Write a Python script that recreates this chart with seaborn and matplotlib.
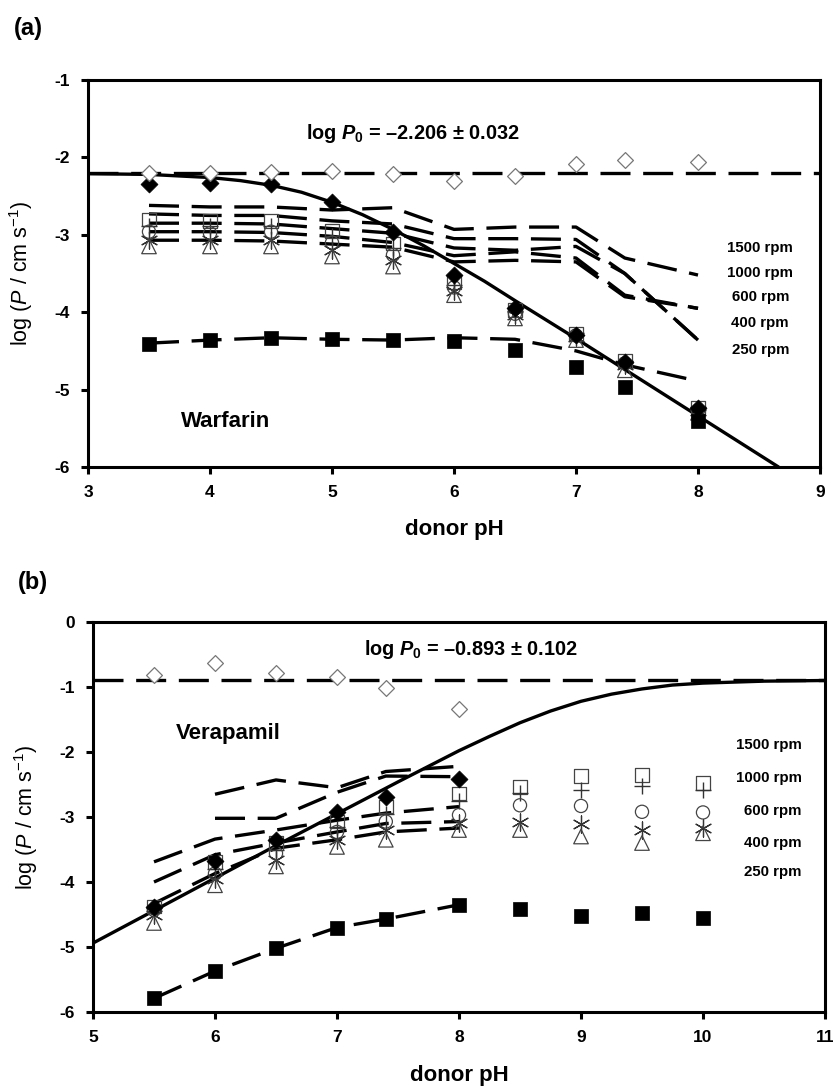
import numpy as np
import pandas as pd
import matplotlib
matplotlib.use("Agg")
import matplotlib.pyplot as plt
import seaborn as sns

# ---------------- data: panel (a) Warfarin ----------------
ph_a = [3.5, 4.0, 4.5, 5.0, 5.5, 6.0, 6.5, 7.0, 7.4, 8.0]
a_open_diamond = [-2.20, -2.20, -2.19, -2.17, -2.21, -2.31, -2.24, -2.09, -2.04, -2.06]
a_filled_diamond = [-2.35, -2.33, -2.35, -2.57, -2.96, -3.52, -3.95, -4.29, -4.64, -5.24]
a_sq_1500 = [-2.80, -2.82, -2.82, -2.95, -3.11, -3.61, -3.97, -4.28, -4.63, -5.24]
a_plus_1000 = [-2.88, -2.88, -2.88, -3.02, -3.17, -3.65, -4.00, -4.30, -4.65, -5.26]
a_circ_600 = [-2.96, -2.98, -2.96, -3.10, -3.26, -3.68, -4.02, -4.30, -4.66, -5.27]
a_ast_400 = [-3.07, -3.07, -3.07, -3.20, -3.33, -3.72, -4.04, -4.32, -4.68, -5.28]
a_tri_250 = [-3.15, -3.15, -3.15, -3.28, -3.41, -3.78, -4.08, -4.36, -4.75, -5.30]
a_filled_sq = [-4.41, -4.36, -4.33, -4.35, -4.36, -4.37, -4.49, -4.71, -4.96, -5.41]
a_dash_sq = [-4.40, -4.36, -4.33, -4.35, -4.36, -4.33, -4.35, -4.50, -4.68, -4.89]
a_dash_1500 = [-2.62, -2.64, -2.64, -2.68, -2.65, -2.93, -2.90, -2.90, -3.30, -3.52]
a_dash_1000 = [-2.73, -2.75, -2.75, -2.82, -2.86, -3.05, -3.05, -3.06, -3.50, -4.36]
a_dash_600 = [-2.85, -2.85, -2.86, -2.92, -2.98, -3.17, -3.20, -3.15, -3.50, -4.36]
a_dash_400 = [-2.96, -2.96, -2.97, -3.02, -3.10, -3.27, -3.22, -3.30, -3.78, -3.95]
a_dash_250 = [-3.07, -3.07, -3.08, -3.12, -3.16, -3.35, -3.33, -3.35, -3.80, -3.95]
a_curve_ph = [3.0, 3.5, 4.0, 4.25, 4.5, 4.75, 5.0, 5.25, 5.5, 5.75, 6.0, 6.25, 6.5, 7.0, 7.5, 8.0, 8.66]
a_curve_logp = [-2.21, -2.22, -2.26, -2.30, -2.36, -2.45, -2.58, -2.74, -2.93, -3.14,
                -3.37, -3.60, -3.85, -4.34, -4.84, -5.34, -6.00]
a_logp0 = -2.206

# ---------------- data: panel (b) Verapamil ----------------
ph_b = [5.5, 6.0, 6.5, 7.0, 7.4, 8.0, 8.5, 9.0, 9.5, 10.0]
ph_b_short = [5.5, 6.0, 6.5, 7.0, 7.4, 8.0]
b_open_diamond = [-0.82, -0.63, -0.78, -0.85, -1.02, -1.34]
b_filled_diamond = [-4.38, -3.67, -3.35, -2.92, -2.69, -2.41]
b_sq_1500 = [-4.38, -3.69, -3.40, -3.07, -2.84, -2.64, -2.54, -2.37, -2.35, -2.48]
b_plus_1000 = [-4.40, -3.80, -3.50, -3.15, -2.95, -2.75, -2.63, -2.58, -2.53, -2.58]
b_circ_600 = [-4.43, -3.87, -3.56, -3.23, -3.07, -2.97, -2.82, -2.83, -2.92, -2.93]
b_ast_400 = [-4.50, -3.95, -3.66, -3.35, -3.20, -3.09, -3.07, -3.10, -3.20, -3.17]
b_tri_250 = [-4.63, -4.05, -3.76, -3.46, -3.35, -3.20, -3.20, -3.30, -3.40, -3.25]
b_filled_sq = [-5.79, -5.37, -5.02, -4.70, -4.57, -4.35, -4.41, -4.52, -4.48, -4.55]
b_dash_sq = [-5.79, -5.37, -5.02, -4.70, -4.57, -4.35]
b_dash_1 = [np.nan, -2.65, -2.43, -2.55, -2.30, -2.22]
b_dash_2 = [np.nan, -3.02, -3.02, -2.62, -2.37, -2.38]
b_dash_3 = [-3.69, -3.34, -3.20, -3.05, -2.94, -2.84]
b_dash_4 = [-4.00, -3.58, -3.40, -3.23, -3.10, -3.07]
b_dash_5 = [-4.33, -3.87, -3.48, -3.35, -3.23, -3.17]
b_curve_ph = [5.0, 5.5, 6.0, 6.5, 7.0, 7.5, 8.0, 8.25, 8.5, 8.75, 9.0, 9.25, 9.5, 9.75, 10.0, 10.5, 11.0]
b_curve_logp = [-4.94, -4.44, -3.94, -3.44, -2.95, -2.46, -1.98, -1.76, -1.55, -1.37,
                -1.22, -1.11, -1.03, -0.97, -0.94, -0.91, -0.90]
b_logp0 = -0.893

rpm_labels = ["1500 rpm", "1000 rpm", "600 rpm", "400 rpm", "250 rpm"]

# ---------------- style ----------------
sns.set_theme(style="ticks")
plt.rcParams["font.family"] = ["Liberation Sans", "DejaVu Sans"]
plt.rcParams["axes.unicode_minus"] = False
plt.rcParams["text.color"] = "black"
plt.rcParams["axes.labelcolor"] = "black"
plt.rcParams["xtick.color"] = "black"
plt.rcParams["ytick.color"] = "black"
plt.rcParams["mathtext.fontset"] = "custom"
plt.rcParams["mathtext.rm"] = "Liberation Sans"
plt.rcParams["mathtext.it"] = "Liberation Sans:italic"
plt.rcParams["mathtext.bf"] = "Liberation Sans:bold"
plt.rcParams["mathtext.bfit"] = "Liberation Sans:bold:italic"

DASH = (0, (9, 3.8))
LW = 2.4
OPEN_EC = "#444444"

W, H = 837, 1086
fig = plt.figure(figsize=(W / 100, H / 100), dpi=100)
axA = fig.add_axes([88 / W, 1 - 467 / H, 732 / W, 387 / H])
axB = fig.add_axes([93 / W, 1 - 1012 / H, 732 / W, 390 / H])


def dashed(ax, x, y):
    sns.lineplot(x=x, y=y, ax=ax, color="black", linewidth=LW, sort=False,
                 estimator=None, legend=False)
    ax.lines[-1].set_linestyle(DASH)
    ax.lines[-1].set_dash_capstyle("butt")


def solid(ax, x, y):
    sns.lineplot(x=x, y=y, ax=ax, color="black", linewidth=2.4, sort=False,
                 estimator=None, legend=False)


def markers(ax, x, y, kind):
    x = np.asarray(x[:len(y)])
    if kind == "sq_open":
        sns.scatterplot(x=x, y=y, ax=ax, marker="s", s=95, facecolors="none",
                        edgecolors=OPEN_EC, linewidths=0.9, zorder=5, legend=False)
    elif kind == "plus":
        sns.scatterplot(x=x, y=y, ax=ax, marker="+", s=130, color="#333333",
                        linewidths=1.0, zorder=5, legend=False)
    elif kind == "circ":
        sns.scatterplot(x=x, y=y, ax=ax, marker="o", s=90, facecolors="none",
                        edgecolors=OPEN_EC, linewidths=0.9, zorder=5, legend=False)
    elif kind == "ast":
        sns.scatterplot(x=x, y=y, ax=ax, marker=(6, 2, 0), s=150, color="#333333",
                        linewidths=0.9, zorder=5, legend=False)
    elif kind == "tri":
        sns.scatterplot(x=x, y=y, ax=ax, marker="^", s=110, facecolors="none",
                        edgecolors=OPEN_EC, linewidths=0.9, zorder=5, legend=False)
    elif kind == "sq_fill":
        sns.scatterplot(x=x, y=y, ax=ax, marker="s", s=105, color="black",
                        edgecolor="black", linewidths=0.5, zorder=6, legend=False)
    elif kind == "dia_fill":
        sns.scatterplot(x=x, y=y, ax=ax, marker="D", s=75, color="black",
                        edgecolor="black", linewidths=0.5, zorder=6, legend=False)
    elif kind == "dia_open":
        sns.scatterplot(x=x, y=y, ax=ax, marker="D", s=65, facecolors="white",
                        edgecolors="#777777", linewidths=0.9, zorder=6, legend=False)


def style_axes(ax, xlim, ylim):
    ax.set_xlim(*xlim)
    ax.set_ylim(*ylim)
    ax.set_xticks(range(int(xlim[0]), int(xlim[1]) + 1))
    ax.set_yticks(range(int(ylim[0]), int(ylim[1]) + 1))
    for s in ax.spines.values():
        s.set_visible(True)
        s.set_linewidth(2.2)
        s.set_color("black")
    ax.tick_params(axis="both", direction="out", length=5, width=2.2,
                   labelsize=12.5, pad=8, colors="black")
    for lbl in ax.get_xticklabels() + ax.get_yticklabels():
        lbl.set_fontweight("bold")
    ax.set_xlabel("donor pH", fontsize=16, fontweight="bold", labelpad=14, color="black")
    ax.set_ylabel(r"log ($\mathit{P}$ / cm s$^{-1}$)", fontsize=15.5,
                  fontweight="normal", color="black")
    ax.yaxis.set_label_coords(-0.073, 0.5)
    ax.grid(False)


# ---------------- panel (a) ----------------
ax = axA
dashed(ax, [3, 9], [a_logp0, a_logp0])
for d in [a_dash_1500, a_dash_1000, a_dash_600, a_dash_400, a_dash_250, a_dash_sq]:
    dashed(ax, ph_a, d)
solid(ax, a_curve_ph, a_curve_logp)
markers(ax, ph_a, a_sq_1500, "sq_open")
markers(ax, ph_a, a_plus_1000, "plus")
markers(ax, ph_a, a_circ_600, "circ")
markers(ax, ph_a, a_ast_400, "ast")
markers(ax, ph_a, a_tri_250, "tri")
markers(ax, ph_a, a_filled_sq, "sq_fill")
markers(ax, ph_a, a_filled_diamond, "dia_fill")
markers(ax, ph_a, a_open_diamond, "dia_open")
style_axes(ax, (3, 9), (-6, -1))
ax.text(5.66, -1.69, r"log $\mathbfit{P}_{\mathbf{0}}$ = –2.206 ± 0.032", fontsize=14.3,
        fontweight="bold", ha="center", va="center")
ax.text(4.13, -5.41, "Warfarin", fontsize=16, fontweight="bold", ha="center", va="center")
for lab, yv in zip(rpm_labels, [-3.17, -3.49, -3.81, -4.14, -4.49]):
    ax.text(8.51, yv, lab, fontsize=10.8, fontweight="bold", ha="center", va="center")

# ---------------- panel (b) ----------------
ax = axB
dashed(ax, [5, 11], [b_logp0, b_logp0])
for d in [b_dash_1, b_dash_2, b_dash_3, b_dash_4, b_dash_5, b_dash_sq]:
    dashed(ax, ph_b_short, d)
solid(ax, b_curve_ph, b_curve_logp)
markers(ax, ph_b, b_sq_1500, "sq_open")
markers(ax, ph_b, b_plus_1000, "plus")
markers(ax, ph_b, b_circ_600, "circ")
markers(ax, ph_b, b_ast_400, "ast")
markers(ax, ph_b, b_tri_250, "tri")
markers(ax, ph_b, b_filled_sq, "sq_fill")
markers(ax, ph_b_short, b_filled_diamond, "dia_fill")
markers(ax, ph_b_short, b_open_diamond, "dia_open")
style_axes(ax, (5, 11), (-6, 0))
ax.text(8.10, -0.43, r"log $\mathbfit{P}_{\mathbf{0}}$ = –0.893 ± 0.102", fontsize=14.3,
        fontweight="bold", ha="center", va="center")
ax.text(6.11, -1.71, "Verapamil", fontsize=16, fontweight="bold", ha="center", va="center")
for lab, yv in zip(rpm_labels, [-1.89, -2.40, -2.91, -3.40, -3.84]):
    ax.text(10.81, yv, lab, fontsize=10.8, fontweight="bold", ha="right", va="center")

fig.text(28 / W, 1 - 28 / H, "(a)", fontsize=17, fontweight="bold", ha="center", va="center")
fig.text(33 / W, 1 - 582 / H, "(b)", fontsize=17, fontweight="bold", ha="center", va="center")

fig.savefig("out.png", dpi=100)
